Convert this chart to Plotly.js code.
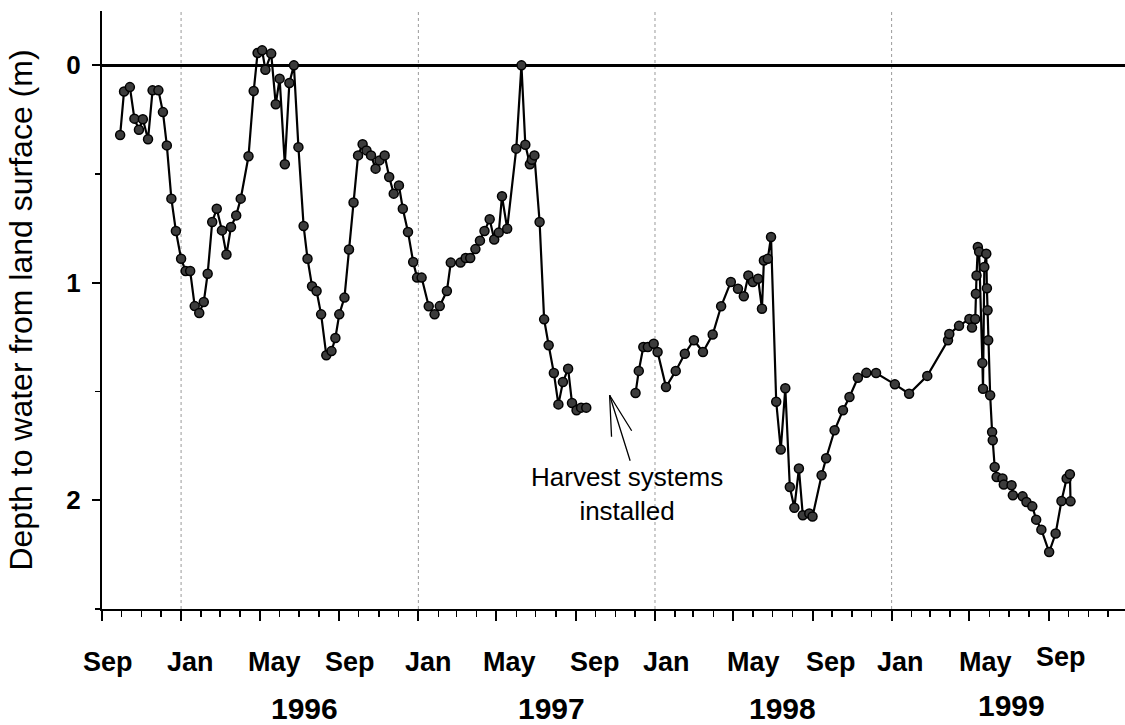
<!DOCTYPE html>
<html>
<head>
<meta charset="utf-8">
<script src="https://cdn.plot.ly/plotly-3.0.1.min.js"></script>
<style>
  html, body { margin: 0; padding: 0; background: #fff; }
  #chart { width: 1125px; height: 725px; }
</style>
</head>
<body>
<div id="chart"></div>
<script>
// Observation dates (null depth marks the data gap)
const dates = [
  '1995-09-29','1995-10-05','1995-10-14','1995-10-21','1995-10-28','1995-11-03','1995-11-11','1995-11-18','1995-11-27','1995-12-04',
  '1995-12-10','1995-12-17','1995-12-24','1996-01-01','1996-01-08','1996-01-15','1996-01-22','1996-01-29','1996-02-05','1996-02-11',
  '1996-02-18','1996-02-25','1996-03-04','1996-03-11','1996-03-18','1996-03-26','1996-04-02','1996-04-14','1996-04-22','1996-04-28',
  '1996-05-05','1996-05-10','1996-05-19','1996-05-26','1996-06-01','1996-06-09','1996-06-16','1996-06-23','1996-06-30','1996-07-08',
  '1996-07-14','1996-07-21','1996-07-28','1996-08-04','1996-08-12','1996-08-20','1996-08-26','1996-09-01','1996-09-09','1996-09-16',
  '1996-09-23','1996-09-30','1996-10-07','1996-10-13','1996-10-20','1996-10-27','1996-11-02','1996-11-10','1996-11-17','1996-11-24',
  '1996-12-02','1996-12-08','1996-12-16','1996-12-24','1996-12-30','1997-01-06','1997-01-17','1997-01-26','1997-02-03','1997-02-14',
  '1997-02-20','1997-03-07','1997-03-15','1997-03-22','1997-03-30','1997-04-06','1997-04-13','1997-04-21','1997-04-28','1997-05-05',
  '1997-05-10','1997-05-18','1997-06-01','1997-06-09','1997-06-15','1997-06-22','1997-06-25','1997-06-29','1997-07-07','1997-07-14',
  '1997-07-21','1997-07-29','1997-08-05','1997-08-12','1997-08-20','1997-08-26','1997-09-02','1997-09-09','1997-09-17',
  '1997-10-20',
  '1997-12-02','1997-12-07','1997-12-14','1997-12-21','1997-12-30','1998-01-05','1998-01-18','1998-02-02','1998-02-16','1998-03-02',
  '1998-03-16','1998-03-31','1998-04-13','1998-04-28','1998-05-09','1998-05-18','1998-05-25','1998-06-01','1998-06-09','1998-06-15',
  '1998-06-18','1998-06-24','1998-06-29','1998-07-07','1998-07-14','1998-07-21','1998-07-28','1998-08-04','1998-08-11','1998-08-17',
  '1998-08-27','1998-09-01','1998-09-15','1998-09-22','1998-10-05','1998-10-18','1998-10-28','1998-11-10','1998-11-23','1998-12-08',
  '1999-01-06','1999-01-28','1999-02-25','1999-03-29','1999-03-31','1999-04-15','1999-05-01','1999-05-05','1999-05-10','1999-05-11',
  '1999-05-12','1999-05-14','1999-05-16','1999-05-21','1999-05-22','1999-05-24','1999-05-27','1999-05-28','1999-05-29','1999-05-30',
  '1999-06-02','1999-06-05','1999-06-06','1999-06-09','1999-06-12','1999-06-21','1999-06-23','1999-07-05','1999-07-07','1999-07-22',
  '1999-07-28','1999-08-06','1999-08-12','1999-08-20','1999-09-01','1999-09-11','1999-09-20','1999-09-28','1999-10-03','1999-10-04'
];

// Depth to water from land surface (m)
const depth = [
  0.32, 0.12, 0.10, 0.245, 0.296, 0.248, 0.34, 0.115, 0.115, 0.215,
  0.368, 0.613, 0.762, 0.889, 0.946, 0.946, 1.107, 1.139, 1.088, 0.958,
  0.72, 0.659, 0.759, 0.87, 0.743, 0.69, 0.613, 0.418, 0.118, -0.057,
  -0.069, 0.02, -0.054, 0.179, 0.061, 0.455, 0.081, 0.0, 0.376, 0.739,
  0.889, 1.016, 1.038, 1.145, 1.333, 1.314, 1.254, 1.145, 1.068, 0.847,
  0.631, 0.414, 0.363, 0.391, 0.414, 0.475, 0.437, 0.414, 0.513, 0.59,
  0.552, 0.659, 0.766, 0.904, 0.976, 0.976, 1.108, 1.145, 1.107, 1.038,
  0.907, 0.907, 0.886, 0.886, 0.845, 0.806, 0.762, 0.708, 0.801, 0.769,
  0.602, 0.751, 0.383, 0.0, 0.365, 0.455, 0.434, 0.414, 0.72, 1.168,
  1.287, 1.415, 1.559, 1.456, 1.395, 1.553, 1.586, 1.574, 1.574,
  null,
  1.507, 1.405, 1.295, 1.295, 1.28, 1.318, 1.479, 1.405, 1.326, 1.264,
  1.318, 1.238, 1.108, 0.996, 1.027, 1.062, 0.966, 0.996, 0.981, 1.119,
  0.897, 0.889, 0.789, 1.547, 1.767, 1.485, 1.939, 2.034, 1.854, 2.069,
  2.061, 2.075, 1.885, 1.807, 1.678, 1.586, 1.525, 1.437, 1.414, 1.415,
  1.467, 1.51, 1.428, 1.264, 1.235, 1.198, 1.166, 1.206, 1.166, 1.05,
  0.966, 0.835, 0.857, 1.369, 1.487, 0.927, 0.866, 1.025, 1.126, 1.264,
  1.517, 1.686, 1.724, 1.847, 1.893, 1.900, 1.928, 1.931, 1.977, 1.982,
  2.008, 2.028, 2.089, 2.135, 2.238, 2.153, 2.003, 1.900, 1.880, 2.005
];

// Axis text
const monthLabels = ['Sep','Jan','May','Sep','Jan','May','Sep','Jan','May','Sep','Jan','May','Sep'];
const monthLabelDates = ['1995-09-11','1996-01-16','1996-05-24','1996-09-17','1997-01-17','1997-05-22',
  '1997-09-30','1998-01-19','1998-06-02','1998-09-29','1999-01-15','1999-05-26','1999-09-20'];
const yearLabels = ['1996','1997','1998','1999'];
const yearLabelDates = ['1996-07-09','1997-07-25','1998-07-17','1999-07-05'];
const gridDates = ['1996-01-01','1997-01-01','1998-01-01','1999-01-01'];

// Annotation
const harvestText = 'Harvest systems<br>installed';
const harvestTipDate = '1997-10-23';
const harvestTipDepth = 1.517;
const harvestTextDate = '1997-11-19';
const harvestTextDepth = 1.972;

const FONT = 'Liberation Sans, Arial, Helvetica, sans-serif';

const trace = {
  x: dates,
  y: depth,
  type: 'scatter',
  mode: 'lines+markers',
  connectgaps: false,
  line: { color: '#000', width: 2.2 },
  marker: { size: 9, color: '#3c3c3c', line: { color: '#000', width: 1.5 } },
  hoverinfo: 'x+y',
  cliponaxis: false
};

const annotations = [];
monthLabels.forEach((t, i) => {
  annotations.push({
    x: monthLabelDates[i], xref: 'x', y: 0, yref: 'paper',
    yanchor: 'middle', xanchor: 'center',
    yshift: (i === monthLabels.length - 1) ? -48 : -53,
    text: t, showarrow: false,
    font: { family: FONT, size: 27, color: '#000', weight: 'bold' }
  });
});
yearLabels.forEach((t, i) => {
  annotations.push({
    x: yearLabelDates[i], xref: 'x', y: 0, yref: 'paper',
    yanchor: 'middle', xanchor: 'center',
    yshift: (i === yearLabels.length - 1) ? -96 : -99,
    text: t, showarrow: false,
    font: { family: FONT, size: 30, color: '#000', weight: 'bold' }
  });
});
// Text label
annotations.push({
  x: harvestTextDate, y: harvestTextDepth, xref: 'x', yref: 'y',
  text: harvestText, showarrow: false, align: 'center',
  font: { family: FONT, size: 26, color: '#000' }
});
// Arrow shaft and the two open barbs (pixel offsets from the tip)
[[21, 67], [2, 43], [23, 37]].forEach(([dx, dy]) => {
  annotations.push({
    x: harvestTipDate, y: harvestTipDepth, xref: 'x', yref: 'y',
    text: '', showarrow: true, arrowhead: 0, arrowwidth: 1.3, arrowcolor: '#000',
    ax: dx, ay: dy, standoff: 0, startstandoff: 0
  });
});

const shapes = gridDates.map(d => ({
  type: 'line', xref: 'x', yref: 'paper', x0: d, x1: d, y0: 0, y1: 1,
  line: { color: '#9a9a9a', width: 1, dash: 'dot' }, layer: 'below'
}));

const layout = {
  width: 1125, height: 725,
  margin: { l: 102, r: 0, t: 11, b: 116 },
  paper_bgcolor: '#fff', plot_bgcolor: '#fff',
  showlegend: false,
  font: { family: FONT, color: '#000' },
  xaxis: {
    type: 'date',
    range: ['1995-09-01', '1999-12-27'],
    showline: true, linecolor: '#000', linewidth: 2,
    ticks: 'outside', tick0: '1995-09-01', dtick: 'M4',
    ticklen: 10, tickwidth: 2, tickcolor: '#000',
    showticklabels: false, showgrid: false, zeroline: false,
    minor: { ticks: 'outside', tick0: '1995-09-01', dtick: 'M1', ticklen: 6, tickwidth: 1.5, tickcolor: '#000', showgrid: false }
  },
  yaxis: {
    range: [2.5, -0.25],
    showline: true, linecolor: '#000', linewidth: 2,
    ticks: 'outside', tick0: 0, dtick: 1, ticklen: 8, tickwidth: 2, tickcolor: '#000',
    tickfont: { family: FONT, size: 26, color: '#000', weight: 'bold' },
    ticklabelstandoff: 6,
    showgrid: false,
    zeroline: true, zerolinecolor: '#000', zerolinewidth: 2.5,
    minor: { ticks: 'outside', tick0: 0, dtick: 0.5, ticklen: 5, tickwidth: 1.5, tickcolor: '#000', showgrid: false },
    title: { text: 'Depth to water from land surface (m)', font: { family: FONT, size: 32, color: '#000' }, standoff: 24 }
  },
  annotations: annotations,
  shapes: shapes
};

Plotly.newPlot('chart', [trace], layout, { staticPlot: true, displayModeBar: false });
</script>
</body>
</html>
